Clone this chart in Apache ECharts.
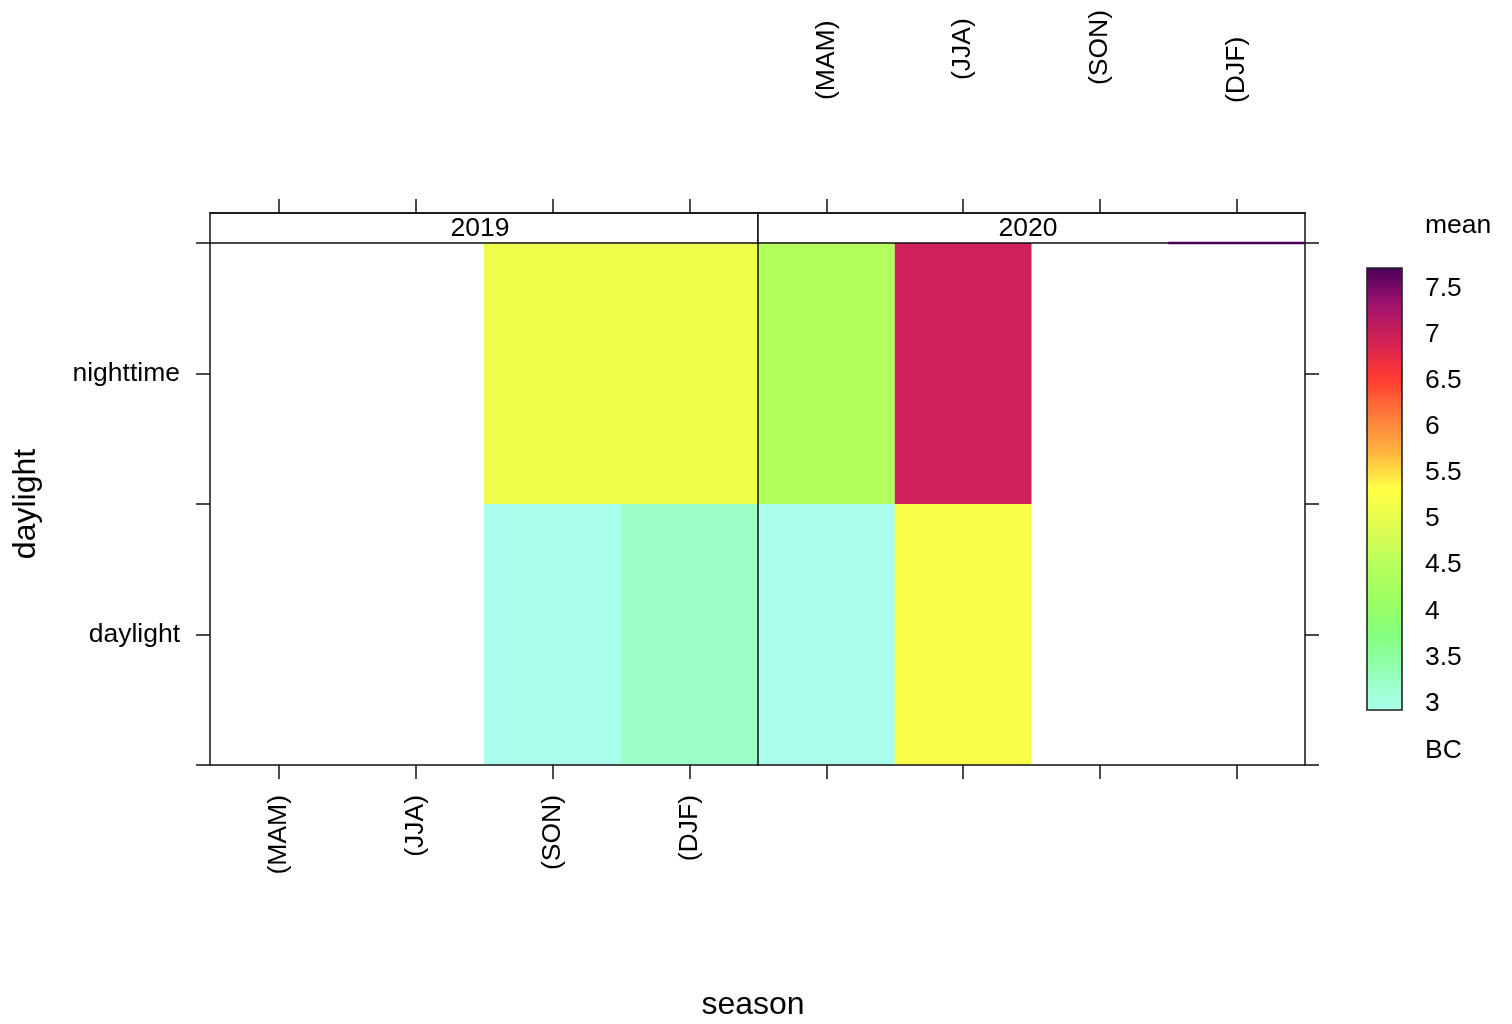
<!DOCTYPE html>
<html>
<head>
<meta charset="utf-8">
<title>Mean BC by season and daylight</title>
<script src="https://cdn.jsdelivr.net/npm/echarts@6/dist/echarts.min.js"></script>
<style>
  html, body { margin: 0; padding: 0; background: #fff; }
  #chart { width: 1512px; height: 1024px; }
</style>
</head>
<body>
<div id="chart"></div>
<script>
// Categories
const seasons = ['(MAM)', '(JJA)', '(SON)', '(DJF)'];
const daylightLevels = ['daylight', 'nighttime'];   // y positions 1 and 2
const years = ['2019', '2020'];

// Mean BC per season (null = no data)
const bc2019Daylight  = [null, null, 2.95, 3.22];
const bc2019Nighttime = [null, null, 5.10, 5.10];
const bc2020Daylight  = [2.95, 5.27, null, null];
const bc2020Nighttime = [4.45, 6.97, null, null];
// DJF 2020 nighttime only shows as a sliver along the panel's top edge
const bc2020NighttimeEdge = [null, null, null, 7.72];

// Colour key
const colorRange = [2.93, 7.72];
const colorTicks = [3, 3.5, 4, 4.5, 5, 5.5, 6, 6.5, 7, 7.5];
const barColors = ['#aaffee', '#96ffba', '#84ff80', '#9cff62', '#b8ff5c', '#e2fb50',
                   '#ffff44', '#ffb440', '#ff7a3c', '#ff3a32', '#d42256', '#a01470', '#480058'];

const FONT = "'Liberation Sans', Arial, Helvetica, sans-serif";
const INK = '#000';
const FS = 26.5;

function cells(dayVals, nightVals) {
  const out = [];
  [dayVals, nightVals].forEach((vals, li) => {
    vals.forEach((v, si) => { if (v != null) out.push([si, li + 1, v]); });
  });
  return out;
}
function edgeCells(vals) {
  const out = [];
  vals.forEach((v, si) => { if (v != null) out.push([si, 2, v]); });
  return out;
}

function renderCell(params, api) {
  const c = api.coord([api.value(0), api.value(1)]);
  const s = api.size([1, 1]);
  return {
    type: 'rect',
    shape: { x: c[0] - s[0] / 2, y: c[1] - s[1] / 2, width: s[0], height: s[1] },
    style: { fill: api.visual('color') }
  };
}
function renderEdge(params, api) {
  const c = api.coord([api.value(0), api.value(1)]);
  const s = api.size([1, 1]);
  return {
    type: 'rect',
    shape: { x: c[0] - s[0] / 2, y: c[1] - s[1] / 2 - 1.2, width: s[0], height: 2.4 },
    style: { fill: api.visual('color') }
  };
}
function renderKey(params, api) {
  const top = api.coord([0, api.value(2)]);
  const bot = api.coord([0, api.value(1)]);
  const cs = params.coordSys;
  const stops = barColors.map((c, i) => ({ offset: i / (barColors.length - 1), color: c }));
  return {
    type: 'rect',
    shape: { x: cs.x, y: top[1], width: cs.width, height: bot[1] - top[1] },
    style: {
      fill: new echarts.graphic.LinearGradient(0, 1, 0, 0, stops),
      stroke: '#222', lineWidth: 1.6
    }
  };
}

const axisLine = { show: true, lineStyle: { color: '#111', width: 1.5 } };
const tickStyle = { color: '#111', width: 1.5 };
const labelBase = { color: INK, fontFamily: FONT, fontSize: FS };
const topPad = [3, 23, 18, 0];

function seasonX(gridIndex, position, showLabels, extra) {
  return Object.assign({
    type: 'category', gridIndex, position, data: seasons, z: 10,
    offset: position === 'top' ? 30 : 0,
    axisLine,
    axisTick: { show: true, alignWithLabel: true, length: 14, lineStyle: tickStyle },
    axisLabel: Object.assign({ show: showLabels, rotate: 90, margin: 30 }, labelBase),
    splitLine: { show: false }
  }, extra || {});
}
function levelY(gridIndex, position, opts) {
  return Object.assign({
    type: 'value', gridIndex, position, min: 0.5, max: 2.5, interval: 0.5, z: 10,
    axisLine,
    axisTick: { show: true, length: 14, lineStyle: tickStyle },
    axisLabel: { show: false },
    splitLine: { show: false }
  }, opts);
}

const richTop = {};
topPad.forEach((p, i) => {
  richTop['t' + i] = { padding: [0, 0, 0, p], fontSize: FS, fontFamily: FONT, color: INK };
});

const option = {
  animation: false,
  backgroundColor: '#fff',
  textStyle: { fontFamily: FONT },
  grid: [
    { left: 210, top: 243, width: 548, height: 522, containLabel: false, outerBoundsMode: 'none' },
    { left: 758, top: 243, width: 547, height: 522, containLabel: false, outerBoundsMode: 'none' },
    { left: 1367, top: 268, width: 35, height: 442, containLabel: false, outerBoundsMode: 'none' }
  ],
  xAxis: [
    seasonX(0, 'bottom', true),
    seasonX(0, 'top', false),
    seasonX(1, 'bottom', false),
    seasonX(1, 'top', true, {
      axisLabel: Object.assign({
        show: true, rotate: -90, margin: 110,
        formatter: (v, i) => '{t' + i + '|' + v + '}',
        rich: richTop
      }, labelBase)
    }),
    { type: 'value', gridIndex: 2, min: 0, max: 1, show: false }
  ],
  yAxis: [
    levelY(0, 'left', {
      axisLabel: Object.assign({
        show: true, margin: 30,
        formatter: v => (v === 1 ? daylightLevels[0] : v === 2 ? daylightLevels[1] : '')
      }, labelBase),
      name: 'daylight', nameLocation: 'middle', nameGap: 168,
      nameTextStyle: { color: INK, fontFamily: FONT, fontSize: 32 }
    }),
    levelY(0, 'right', { axisTick: { show: false } }),
    levelY(1, 'right', {}),
    {
      type: 'value', gridIndex: 2, position: 'right', min: colorRange[0], max: colorRange[1],
      axisLine: { show: false },
      axisTick: { show: true, length: 7, customValues: colorTicks, lineStyle: { color: '#333', width: 1.5 } },
      axisLabel: Object.assign({ show: true, margin: 23, customValues: colorTicks }, labelBase),
      splitLine: { show: false }
    }
  ],
  visualMap: {
    type: 'continuous', show: false, min: colorRange[0], max: colorRange[1],
    dimension: 2, seriesIndex: [0, 1, 2], inRange: { color: barColors }
  },
  series: [
    { type: 'custom', name: years[0], xAxisIndex: 0, yAxisIndex: 0, z: 2,
      renderItem: renderCell, data: cells(bc2019Daylight, bc2019Nighttime) },
    { type: 'custom', name: years[1], xAxisIndex: 2, yAxisIndex: 2, z: 2,
      renderItem: renderCell, data: cells(bc2020Daylight, bc2020Nighttime) },
    { type: 'custom', name: years[1] + ' edge', xAxisIndex: 2, yAxisIndex: 2, z: 20,
      renderItem: renderEdge, data: edgeCells(bc2020NighttimeEdge) },
    { type: 'custom', name: 'key', xAxisIndex: 4, yAxisIndex: 3, z: 2,
      renderItem: renderKey, data: [[0, colorRange[0], colorRange[1]]] }
  ],
  graphic: [
    { type: 'rect', z: 5, shape: { x: 210, y: 213, width: 548, height: 30 },
      style: { fill: '#fff', stroke: '#111', lineWidth: 1.5 } },
    { type: 'rect', z: 5, shape: { x: 758, y: 213, width: 547, height: 30 },
      style: { fill: '#fff', stroke: '#111', lineWidth: 1.5 } },
    { type: 'text', z: 6, x: 480, y: 229,
      style: { text: years[0], font: FS + 'px ' + FONT, fill: INK, textAlign: 'center', textVerticalAlign: 'middle' } },
    { type: 'text', z: 6, x: 1028, y: 229,
      style: { text: years[1], font: FS + 'px ' + FONT, fill: INK, textAlign: 'center', textVerticalAlign: 'middle' } },
    { type: 'text', z: 6, x: 753, y: 1005,
      style: { text: 'season', font: '32px ' + FONT, fill: INK, textAlign: 'center', textVerticalAlign: 'middle' } },
    { type: 'text', z: 6, x: 1425, y: 226,
      style: { text: 'mean', font: FS + 'px ' + FONT, fill: INK, textAlign: 'left', textVerticalAlign: 'middle' } },
    { type: 'text', z: 6, x: 1425, y: 751,
      style: { text: 'BC', font: FS + 'px ' + FONT, fill: INK, textAlign: 'left', textVerticalAlign: 'middle' } }
  ]
};

const chart = echarts.init(document.getElementById('chart'), null, { renderer: 'canvas' });
chart.setOption(option);
</script>
</body>
</html>
